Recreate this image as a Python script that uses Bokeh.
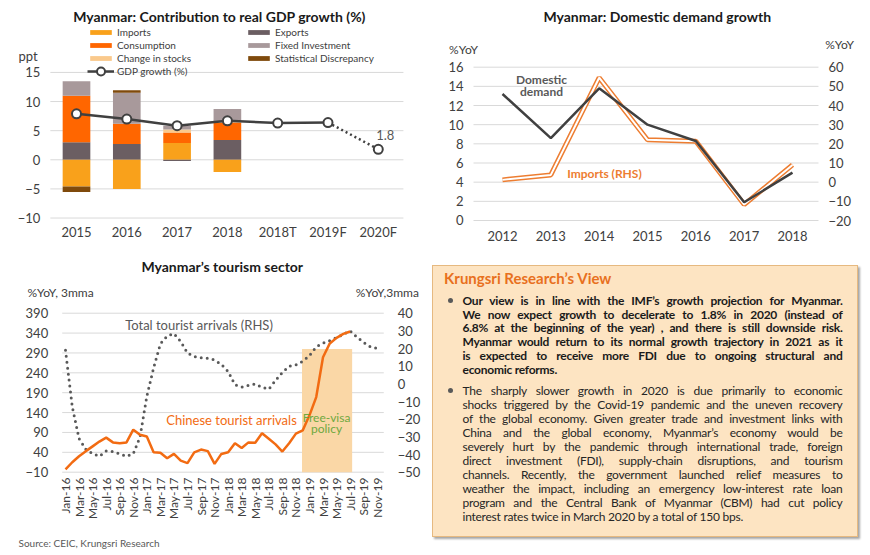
import math
from bokeh.plotting import figure
from bokeh.models import (ColumnDataSource, Range1d, LinearAxis, FixedTicker,
                          Label, Legend, LegendItem, Div)
from bokeh.layouts import row, column
from bokeh.embed import file_html
from bokeh.resources import INLINE

FONT = "Lato"
DARK = "#404040"
GRID = "#D9D9D9"

# ---------------- Chart 1: contribution to real GDP growth ----------------
gdp_years = ["2015", "2016", "2017", "2018", "2018T", "2019F", "2020F"]
imports = [-4.6, -5.0, 2.9, -2.1, 0.0, 0.0, 0.0]
exports = [3.0, 2.7, -0.2, 3.4, 0.0, 0.0, 0.0]
consumption = [8.0, 3.5, 1.8, 3.0, 0.0, 0.0, 0.0]
change_in_stocks = [0.0, 0.0, 0.5, 0.2, 0.0, 0.0, 0.0]
fixed_investment = [2.5, 5.3, 0.65, 2.1, 0.0, 0.0, 0.0]
stat_discrepancy = [-0.95, 0.45, 0.0, 0.0, 0.0, 0.0, 0.0]
gdp_growth = [7.9, 7.0, 5.85, 6.7, 6.3, 6.4, 1.8]
gdp_ticks = [-10, -5, 0, 5, 10, 15]

# ---------------- Chart 2: domestic demand growth ----------------
dd_years = ["2012", "2013", "2014", "2015", "2016", "2017", "2018"]
domestic_demand = [13.2, 8.6, 13.8, 10.0, 8.3, 1.9, 5.0]
imports_growth = [1.2, 3.8, 54.5, 22.1, 21.4, -11.7, 9.0]
dd_left_ticks = [0, 2, 4, 6, 8, 10, 12, 14, 16]
dd_right_ticks = [-20, -10, 0, 10, 20, 30, 40, 50, 60]

# ---------------- Chart 3: tourism sector ----------------
month_names = ["Jan", "Feb", "Mar", "Apr", "May", "Jun",
               "Jul", "Aug", "Sep", "Oct", "Nov", "Dec"]
months = [f"{m}-{y}" for y in ("16", "17", "18", "19") for m in month_names][:47]
chinese_arrivals = [-3, 15, 30, 43, 55, 67, 77, 65, 63, 65, 97, 84,
                    80, 40, 39, 25, 36, 19, 13, 40, 47, 43, 11, 36,
                    40, 63, 51, 65, 64, 88, 74, 60, 42, 63, 87, 95,
                    133, 179, 279, 314, 328, 338, 344]
total_arrivals = [19, -13, -31, -37, -39.5, -41, -38, -38.3, -39.6, -41, -39.6, -30,
                  -7, 9, 22.7, 27, 28.5, 24, 17.5, 15.5, 14.8, 14.5, 13.5, 11,
                  7, -0.5, -1.8, -0.8, 0, -1.9, -3, 2, 6.5, 10, 10.8, 12.8,
                  16, 21, 23, 24.5, 26.2, 28, 30, 26.5, 23.5, 21, 20]
tour_left_ticks = [-10, 40, 90, 140, 190, 240, 290, 340, 390]
tour_right_ticks = [-50, -40, -30, -20, -10, 0, 10, 20, 30, 40]
visa_period = (34.9, 42.3)   # month index span of the shaded free-visa period
visa_top = 300

# ---------------- text box ----------------
box_title = "Krungsri Research’s View"
bullet1_lines = [
    "Our view is in line with the IMF’s growth projection for Myanmar.",
    "We now expect growth to decelerate to 1.8% in 2020 (instead of",
    "6.8% at the beginning of the year) , and there is still downside risk.",
    "Myanmar would return to its normal growth trajectory in 2021 as it",
    "is expected to receive more FDI due to ongoing structural and",
    "economic reforms.",
]
bullet2_lines = [
    "The sharply slower growth in 2020 is due primarily to economic",
    "shocks triggered by the Covid-19 pandemic and the uneven recovery",
    "of the global economy. Given greater trade and investment links with",
    "China and the global economy, Myanmar’s economy would be",
    "severely hurt by the pandemic through international trade, foreign",
    "direct investment (FDI), supply-chain disruptions, and tourism",
    "channels. Recently, the government launched relief measures to",
    "weather the impact, including an emergency low-interest rate loan",
    "program and the Central Bank of Myanmar (CBM) had cut policy",
    "interest rates twice in March 2020 by a total of 150 bps.",
]
source_text = "Source: CEIC, Krungsri Research"


def make_fig(w, h, xr, yr):
    p = figure(width=w, height=h, x_range=Range1d(*xr), y_range=Range1d(*yr),
               output_backend="svg", toolbar_location=None,
               min_border_left=0, min_border_right=0, min_border_top=0, min_border_bottom=0)
    p.outline_line_color = None
    p.xgrid.visible = False
    p.ygrid.visible = False
    return p


def style_axis(ax, size="13px"):
    ax.axis_line_color = None
    ax.major_tick_line_color = None
    ax.minor_tick_line_color = None
    ax.major_tick_out = 0
    ax.major_tick_in = 0
    ax.major_label_text_font = FONT
    ax.major_label_text_font_size = size
    ax.major_label_text_color = DARK


def add_text(p, x, y, text, size="13px", color=DARK, bold=False, align="center",
             x_offset=0, y_offset=0):
    p.add_layout(Label(x=x, y=y, text=text, text_font=FONT, text_font_size=size,
                       text_color=color, text_font_style="bold" if bold else "normal",
                       text_align=align, text_baseline="middle",
                       x_offset=x_offset, y_offset=y_offset))


def hgrid(p, ticks, x0, x1):
    p.segment(x0=[x0] * len(ticks), x1=[x1] * len(ticks), y0=ticks, y1=ticks,
              line_color=GRID, line_width=1)


# ======================= Chart 1 =======================
x1 = list(range(len(gdp_years)))
g1 = (-0.52, 6.5)                       # plot-area extent (x data)
p1 = make_fig(431, 253, (-1.511, 7.058), (-16.09, 27.35))
hgrid(p1, gdp_ticks, *g1)
ay1 = p1.yaxis[0]
ay1.ticker = FixedTicker(ticks=gdp_ticks)
ay1.fixed_location = g1[0]
style_axis(ay1)
ay1.major_label_standoff = 10
ax1 = p1.xaxis[0]
ax1.ticker = FixedTicker(ticks=x1)
ax1.major_label_overrides = {i: s for i, s in enumerate(gdp_years)}
ax1.fixed_location = -10.5
style_axis(ax1)
ax1.major_label_standoff = 3

comp_names = ["imports", "exports", "consumption", "change_in_stocks",
              "fixed_investment", "stat_discrepancy"]
comp_values = [imports, exports, consumption, change_in_stocks,
               fixed_investment, stat_discrepancy]
comp_colors = ["#F9A11B", "#6B5E62", "#FF6600", "#FAC98C", "#A8999B", "#7F4A0C"]
legend_order = [("Imports", 0), ("Exports", 1), ("Consumption", 2), ("Fixed Investment", 4),
                ("Change in stocks", 3), ("Statistical Discrepancy", 5)]

data1 = {"x": x1}
for n, v in zip(comp_names, comp_values):
    data1[n + "_pos"] = [max(a, 0.0) for a in v]
    data1[n + "_neg"] = [min(a, 0.0) for a in v]
src1 = ColumnDataSource(data1)
pos_r = p1.vbar_stack([n + "_pos" for n in comp_names], x="x", width=0.55,
                      fill_color=comp_colors, line_color=None, source=src1)
p1.vbar_stack([n + "_neg" for n in comp_names], x="x", width=0.55,
              fill_color=comp_colors, line_color=None, source=src1)

n_actual = 6
gl = p1.line(x1[:n_actual], gdp_growth[:n_actual], line_color=DARK, line_width=2.5)
p1.line(x1[n_actual - 1:], gdp_growth[n_actual - 1:], line_color=DARK, line_width=2.5,
        line_dash="2 3")
gm = p1.scatter(x1, gdp_growth, size=9, fill_color="white", line_color=DARK, line_width=2)

legA = Legend(items=[LegendItem(label=lbl, renderers=[pos_r[k]]) for lbl, k in legend_order],
              location=(87, 189), orientation="horizontal", ncols=2,
              label_text_font=FONT, label_text_font_size="10px", label_text_color=DARK,
              glyph_width=27, glyph_height=6, label_height=12, label_width=127,
              label_standoff=3, spacing=1, padding=0, margin=0,
              border_line_alpha=0, background_fill_alpha=0)
legB = Legend(items=[LegendItem(label="GDP growth (%)", renderers=[gl, gm])],
              location=(87, 172), label_text_font=FONT, label_text_font_size="10px",
              label_text_color=DARK, glyph_width=27, glyph_height=20, label_height=20,
              label_standoff=3, padding=0, margin=0,
              border_line_alpha=0, background_fill_alpha=0)
p1.add_layout(legA, "center")
p1.add_layout(legB, "center")

add_text(p1, x1[-1], gdp_growth[-1], f"{gdp_growth[-1]}", color="#595959",
         x_offset=7, y_offset=14)
add_text(p1, 2.843, 24.6, "Myanmar: Contribution to real GDP growth (%)", size="14px",
         color="#1a1a1a", bold=True)
add_text(p1, -0.964, 17.9, "ppt", size="13px")

# ======================= Chart 2 =======================
x2 = list(range(len(dd_years)))
g2 = (-0.6, 6.538)
p2 = make_fig(439, 253, (-1.469, 7.614), (-3.445, 22.96))
p2.extra_y_ranges = {"rhs": Range1d(-37.22, 94.8)}
hgrid(p2, dd_left_ticks, *g2)
ay2 = p2.yaxis[0]
ay2.ticker = FixedTicker(ticks=dd_left_ticks)
ay2.fixed_location = g2[0]
style_axis(ay2)
ay2.major_label_standoff = 10
ax2 = p2.xaxis[0]
ax2.ticker = FixedTicker(ticks=x2)
ax2.major_label_overrides = {i: s for i, s in enumerate(dd_years)}
ax2.fixed_location = -0.3
style_axis(ax2)
ax2.major_label_standoff = 8
ax2r = LinearAxis(y_range_name="rhs", ticker=FixedTicker(ticks=dd_right_ticks),
                  fixed_location=g2[1])
style_axis(ax2r)
ax2r.major_label_standoff = 10
p2.add_layout(ax2r, "right")

p2.line(x2, imports_growth, y_range_name="rhs", line_color="#ED7D31", line_width=5)
p2.line(x2, imports_growth, y_range_name="rhs", line_color="white", line_width=2)
p2.line(x2, domestic_demand, line_color=DARK, line_width=2.5)

add_text(p2, 3.201, 21.29, "Myanmar: Domestic demand growth", size="14px", color="#1a1a1a", bold=True)
add_text(p2, -0.807, 17.85, "%YoY", size="12px")
add_text(p2, 6.973, 18.37, "%YoY", size="12px")
add_text(p2, 0.807, 14.69, "Domestic", size="12px", color="#595959", bold=True)
add_text(p2, 0.807, 13.43, "demand", size="12px", color="#595959", bold=True)
add_text(p2, 2.11, 4.94, "Imports (RHS)", size="12px", color="#ED7D31", bold=True)

# ======================= Chart 3 =======================
xm = list(range(len(months)))
g3 = (-0.487, 46.97)
p3 = make_fig(431, 302, (-9.593, 54.01), (-219.56, 540.2))
p3.extra_y_ranges = {"rhs": Range1d(-50 + (-219.56 + 10) * 0.225, -50 + (540.2 + 10) * 0.225)}
hgrid(p3, tour_left_ticks, *g3)
ay3 = p3.yaxis[0]
ay3.ticker = FixedTicker(ticks=tour_left_ticks)
ay3.fixed_location = g3[0]
style_axis(ay3)
ay3.major_label_standoff = 14
ax3 = p3.xaxis[0]
ax3.ticker = FixedTicker(ticks=xm[::2])
ax3.major_label_overrides = {i: months[i] for i in xm[::2]}
ax3.fixed_location = -16
style_axis(ax3, size="12px")
ax3.major_label_orientation = math.pi / 2
ax3.major_label_standoff = 3
ax3r = LinearAxis(y_range_name="rhs", ticker=FixedTicker(ticks=tour_right_ticks),
                  fixed_location=g3[1])
style_axis(ax3r)
ax3r.major_label_standoff = 14
p3.add_layout(ax3r, "right")

p3.quad(left=[visa_period[0]], right=[visa_period[1]], bottom=[tour_left_ticks[0]],
        top=[visa_top], fill_color="#FAD7A6", line_color=None)
add_text(p3, 38.52, 128.4, "Free-visa", size="12px", color="#6FA83F")
add_text(p3, 38.52, 100.7, "policy", size="12px", color="#6FA83F")
p3.line(xm, total_arrivals, y_range_name="rhs", line_color="#595959", line_width=3,
        line_dash="0 6", line_cap="round")
p3.line(xm[:len(chinese_arrivals)], chinese_arrivals, line_color="#F26B12", line_width=2.5)

add_text(p3, 23.13, 507.5, "Myanmar’s tourism sector", size="14px", color="#1a1a1a", bold=True)
add_text(p3, -0.738, 442.8, "%YoY, 3mma", size="12px")
add_text(p3, 47.48, 442.8, "%YoY,3mma", size="12px")
add_text(p3, 19.70, 359.1, "Total tourist arrivals (RHS)", size="13px", color="#595959")
add_text(p3, 24.5, 121.8, "Chinese tourist arrivals", size="13px", color="#F26B12")
add_text(p3, -6.936, -187.6, source_text, size="10px", color="#595959", align="left")

# ======================= Text box =======================
def line_div(txt, top, last, bold):
    return (f'<div style="position:absolute;left:31.5px;top:{top:.1f}px;width:380px;'
            f'height:14px;line-height:14px;white-space:nowrap;letter-spacing:-0.25px;'
            f'text-align:justify;text-align-last:{"left" if last else "justify"};'
            f'font-weight:{"bold" if bold else "normal"};color:{"#1a1a1a" if bold else "#262626"};">'
            f'{txt}</div>')

parts = ['<div style="position:relative;width:439px;height:302px;font-family:Lato;font-size:12px;">',
         '<div style="position:absolute;left:1px;top:12px;width:426px;height:272px;'
         'box-sizing:border-box;background:#FDE4C2;border:1px solid #E6B980;'
         'box-shadow:2px 2px 2px rgba(0,0,0,0.35);"></div>',
         f'<div style="position:absolute;left:13px;top:16.5px;line-height:17px;font-size:15px;'
         f'font-weight:bold;color:#E8701E;white-space:nowrap;">{box_title}</div>']
for k, t in enumerate(bullet1_lines):
    parts.append(line_div(t, 40.7 + 13.75 * k, k == len(bullet1_lines) - 1, True))
for k, t in enumerate(bullet2_lines):
    parts.append(line_div(t, 130.5 + 14.1 * k, k == len(bullet2_lines) - 1, False))
for cy in (47.7, 137.5):
    parts.append(f'<div style="position:absolute;left:17px;top:{cy - 2.5:.1f}px;width:5px;height:5px;'
                 f'border-radius:50%;background:#595959;"></div>')
parts.append('</div>')
box = Div(text="".join(parts), width=439, height=302, margin=0)

layout = row(column(p1, p3, spacing=0), column(p2, box, spacing=0), spacing=0)
open("out.html", "w").write(file_html(layout, INLINE))
